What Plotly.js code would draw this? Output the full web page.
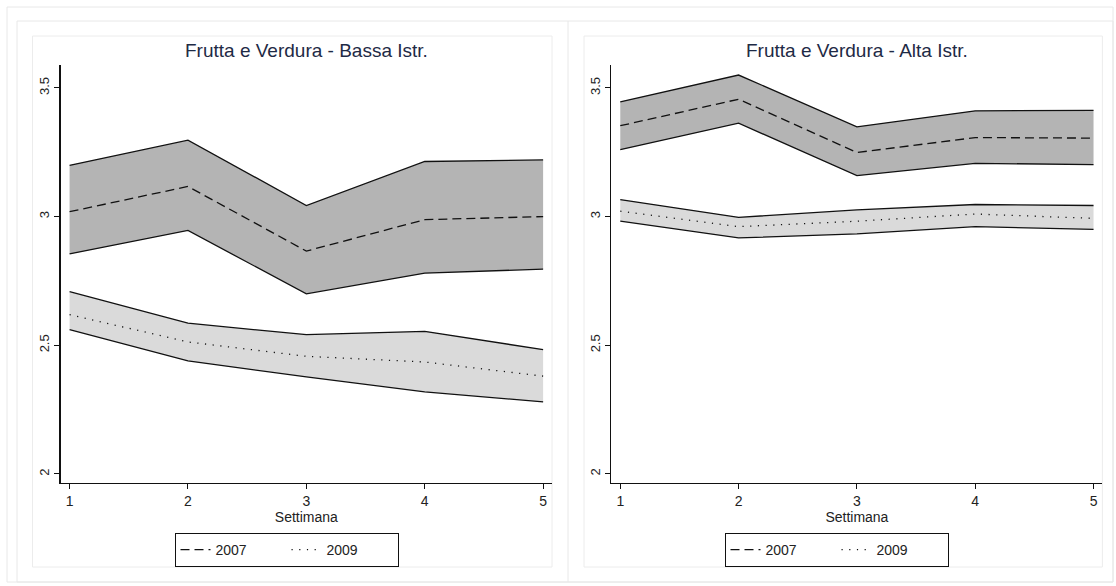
<!DOCTYPE html>
<html>
<head>
<meta charset="utf-8">
<script src="https://cdn.plot.ly/plotly-3.0.1.min.js"></script>
<style>
html,body{margin:0;padding:0;background:#fff;}
#chart{width:1116px;height:586px;}
</style>
</head>
<body>
<div id="chart"></div>
<script>
// Data
const settimana = [1, 2, 3, 4, 5];
const xTicks = [1, 2, 3, 4, 5];
const yTicks = [2, 2.5, 3, 3.5];
const yTickLabels = ["2", "2.5", "3", "3.5"];
const titles = ["Frutta e Verdura - Bassa Istr.", "Frutta e Verdura - Alta Istr."];
const seriesNames = ["2007", "2009"];

// Bassa Istruzione
const bassa2007Mean  = [3.019, 3.117, 2.866, 2.988, 3.000];
const bassa2007Upper = [3.199, 3.297, 3.043, 3.214, 3.220];
const bassa2007Lower = [2.855, 2.946, 2.700, 2.780, 2.796];
const bassa2009Mean  = [2.619, 2.513, 2.457, 2.435, 2.380];
const bassa2009Upper = [2.708, 2.586, 2.541, 2.554, 2.483];
const bassa2009Lower = [2.561, 2.439, 2.377, 2.319, 2.280];

// Alta Istruzione
const alta2007Mean  = [3.353, 3.456, 3.249, 3.307, 3.305];
const alta2007Upper = [3.446, 3.550, 3.349, 3.411, 3.413];
const alta2007Lower = [3.260, 3.363, 3.159, 3.207, 3.202];
const alta2009Mean  = [3.021, 2.961, 2.982, 3.010, 2.993];
const alta2009Upper = [3.066, 2.997, 3.026, 3.047, 3.043];
const alta2009Lower = [2.982, 2.917, 2.933, 2.961, 2.950];

const W = 1116, H = 586;
const px = v => v / W;
const py = v => (H - v) / H;

const FONT = "Liberation Sans, Arial, sans-serif";
const darkBand = "#b4b4b4";
const lightBand = "#dadada";
const edge = {color: "#111", width: 1.3};

function band(lower, upper, fill, xa, ya) {
  return [
    {x: settimana, y: lower, xaxis: xa, yaxis: ya, mode: "lines", line: edge, showlegend: false, hoverinfo: "skip"},
    {x: settimana, y: upper, xaxis: xa, yaxis: ya, mode: "lines", line: edge, fill: "tonexty", fillcolor: fill, showlegend: false, hoverinfo: "skip"}
  ];
}
function meanLine(y, name, dash, xa, ya, legend) {
  return {x: settimana, y: y, xaxis: xa, yaxis: ya, mode: "lines", name: name,
          line: {color: "#111", width: 1.3, dash: dash}, legend: legend};
}

const dash07 = "9px,5px";
const dot09 = "1.2px,6.5px";

const traces = [
  ...band(bassa2007Lower, bassa2007Upper, darkBand, "x", "y"),
  ...band(bassa2009Lower, bassa2009Upper, lightBand, "x", "y"),
  meanLine(bassa2007Mean, seriesNames[0], dash07, "x", "y", "legend"),
  meanLine(bassa2009Mean, seriesNames[1], dot09, "x", "y", "legend"),
  ...band(alta2007Lower, alta2007Upper, darkBand, "x2", "y2"),
  ...band(alta2009Lower, alta2009Upper, lightBand, "x2", "y2"),
  meanLine(alta2007Mean, seriesNames[0], dash07, "x2", "y2", "legend2"),
  meanLine(alta2009Mean, seriesNames[1], dot09, "x2", "y2", "legend2")
];

const yDomain = [py(482.7), py(65)];
function xAxis(domain, anchor) {
  return {
    domain: domain, anchor: anchor, range: [0.925, 5.075],
    tickvals: xTicks, ticktext: xTicks.map(String),
    showline: true, linecolor: "#111", linewidth: 1.5,
    ticks: "outside", ticklen: 5, tickwidth: 1, tickcolor: "#111",
    showgrid: false, zeroline: false,
    tickfont: {family: FONT, size: 14, color: "#222"},
    title: {text: "Settimana", font: {family: FONT, size: 14, color: "#222"}, standoff: 0},
    automargin: false, fixedrange: true
  };
}
function yAxis(anchor) {
  return {
    domain: yDomain, anchor: anchor, range: [1.966, 3.589],
    tickvals: yTicks, ticktext: yTickLabels, tickangle: -90,
    showline: true, linecolor: "#111", linewidth: 1.5,
    ticks: "outside", ticklen: 5, tickwidth: 1, tickcolor: "#111",
    showgrid: false, zeroline: false,
    tickfont: {family: FONT, size: 13, color: "#222"},
    automargin: false, fixedrange: true
  };
}
function legendBox(xc) {
  return {
    orientation: "h", x: px(xc), xanchor: "center", y: py(533), yanchor: "top",
    bordercolor: "#111", borderwidth: 1, bgcolor: "#fff",
    font: {family: FONT, size: 14, color: "#222"},
    entrywidth: 66, entrywidthmode: "pixels", itemwidth: 30,
    traceorder: "normal"
  };
}
function rect(x0, y0, x1, y1, col) {
  return {type: "rect", xref: "paper", yref: "paper", x0: px(x0), x1: px(x1), y0: py(y1), y1: py(y0),
          line: {color: col || "#e6e6e6", width: 1}, fillcolor: "rgba(0,0,0,0)", layer: "below"};
}

const layout = {
  width: W, height: H, autosize: false,
  margin: {l: 0, r: 0, t: 0, b: 0, pad: 0},
  paper_bgcolor: "#fff", plot_bgcolor: "rgba(0,0,0,0)",
  showlegend: true,
  xaxis: xAxis([px(60.7), px(552)], "y"),
  yaxis: yAxis("x"),
  xaxis2: xAxis([px(611.4), px(1102.4)], "y2"),
  yaxis2: yAxis("x2"),
  legend: legendBox(286.5),
  legend2: legendBox(836.5),
  annotations: [
    {text: titles[0], xref: "paper", yref: "paper", x: px(306.5), y: py(50), xanchor: "center", yanchor: "middle",
     showarrow: false, font: {family: FONT, size: 19, color: "#1e2a45"}},
    {text: titles[1], xref: "paper", yref: "paper", x: px(856.5), y: py(50), xanchor: "center", yanchor: "middle",
     showarrow: false, font: {family: FONT, size: 19, color: "#1e2a45"}}
  ],
  shapes: [
    rect(7, 7, 1113, 582, "#e8e8e8"),
    rect(17, 21, 1113, 582, "#e8e8e8"),
    {type: "line", xref: "paper", yref: "paper", x0: px(568), x1: px(568), y0: py(582), y1: py(21),
     line: {color: "#e8e8e8", width: 1}, layer: "below"},
    rect(32.5, 36, 552, 567, "#ececec"),
    rect(584, 36, 1102.4, 567, "#ececec")
  ]
};

Plotly.newPlot("chart", traces, layout, {displayModeBar: false, staticPlot: true});
</script>
</body>
</html>
